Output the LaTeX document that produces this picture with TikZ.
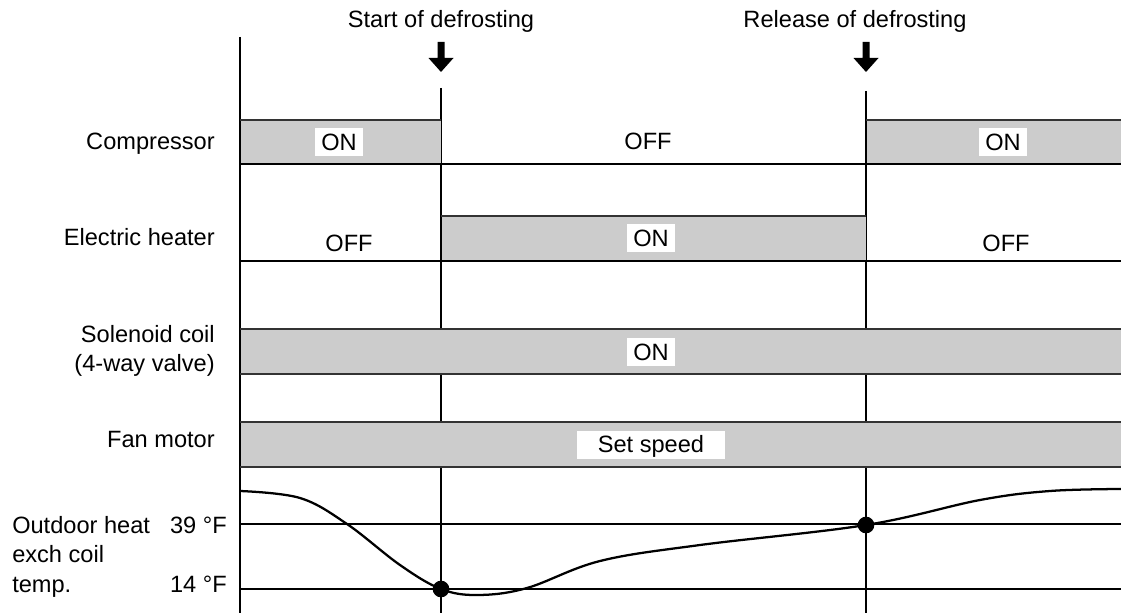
\documentclass[tikz,border=0pt]{standalone}
\usepackage{fontspec}
\setmainfont{Liberation Sans}
\begin{document}
\begin{tikzpicture}[x=0.75pt,y=-0.75pt,
  grid/.style={line width=0.9pt,draw=black},
  bar/.style={fill=black!20},
  baredge/.style={line width=1.1pt,draw=black!80},
  lbl/.style={font=\fontsize{17.7}{21}\selectfont,inner sep=0pt},
  onbox/.style={lbl,fill=white,inner xsep=4.5pt,inner ysep=0pt,text height=12.6pt,text depth=0pt,minimum height=21pt},
  dot/.style={circle,fill=black,inner sep=0pt,minimum size=12.5pt},
  curve/.style={line width=1.7pt,line join=round},
  downarr/.pic={\fill (-3.5,42) -- (3.5,42) -- (3.5,58) -- (12.5,58) -- (0,72) -- (-12.5,58) -- (-3.5,58) -- cycle;}
]
\useasboundingbox (0,0) rectangle (1121,613);

% vertical time lines
\coordinate (axT) at (240,37);  \coordinate (axB) at (240,613);
\coordinate (sT)  at (441,88);  \coordinate (sB)  at (441,613);
\coordinate (rT)  at (866,91);  \coordinate (rB)  at (866,613);
\draw[grid] (axT) -- (axB);
\draw[grid] (sT) -- (sB);
\draw[grid] (rT) -- (rB);

% Compressor
\fill[bar] (240.5,120) rectangle (440.5,164);
\draw[baredge] (240,120) -- (441,120);
\fill[bar] (866.5,120) rectangle (1121,164);
\draw[baredge] (866,120) -- (1121,120);
\draw[grid] (240,164) -- (1121,164);

% Electric heater
\fill[bar] (441.5,216) rectangle (865.5,261);
\draw[baredge] (441,216) -- (866,216);
\draw[grid] (240,261) -- (1121,261);

% Solenoid coil
\fill[bar] (240.5,329) rectangle (1121,374);
\draw[baredge] (240,329) -- (1121,329);
\draw[baredge] (240,374) -- (1121,374);

% Fan motor
\fill[bar] (240.5,422) rectangle (1121,467);
\draw[baredge] (240,422) -- (1121,422);
\draw[baredge] (240,467) -- (1121,467);

% temperature levels
\draw[grid] (240,524) -- (1121,524);
\draw[grid] (240,589) -- (1121,589);

% temperature curve
\draw[curve] plot[smooth,tension=0.6] coordinates {(240,491) (300,498) (347,524) (400,565) (441,589) (478,595) (527,588) (600,561) (700,545) (866,525) (980,500) (1050,491) (1121,489)};
\node[dot] (d1) at (441,589) {};
\node[dot] (d2) at (866,525) {};

% event arrows
\pic at (441,0) {downarr};
\pic at (866,0) {downarr};
\node[lbl,anchor=base] (tstart) at (441,28) {Start of defrosting};
\node[lbl,anchor=base] (trel) at (855,28) {Release of defrosting};

% row labels
\node[lbl,anchor=base east] (lcomp) at (215,150) {Compressor};
\node[lbl,anchor=base east] (lheat) at (215,245) {Electric heater};
\node[lbl,anchor=base east] (lsol1) at (215,342) {Solenoid coil};
\node[lbl,anchor=base east] (lsol2) at (215,371) {(4-way valve)};
\node[lbl,anchor=base east] (lfan) at (215,447) {Fan motor};
\node[lbl,anchor=base west] (lt1) at (12,533) {Outdoor heat};
\node[lbl,anchor=base west] (lt2) at (12,562) {exch coil};
\node[lbl,anchor=base west] (lt3) at (12,592) {temp.};
\node[lbl,anchor=base east] (l39) at (227,533) {39 °F};
\node[lbl,anchor=base east] (l14) at (227,592) {14 °F};

% state labels
\node[onbox] (c1) at (339,142) {ON};
\node[lbl,anchor=base] (c2) at (648,150) {OFF};
\node[onbox] (c3) at (1003,142) {ON};
\node[lbl,anchor=base] (h1) at (349,252) {OFF};
\node[onbox] (h2) at (651,238) {ON};
\node[lbl,anchor=base] (h3) at (1006,252) {OFF};
\node[onbox] (s1) at (651,352) {ON};
\node[onbox,minimum width=111pt] (f1) at (651,444.5) {Set speed};
\end{tikzpicture}
\end{document}
